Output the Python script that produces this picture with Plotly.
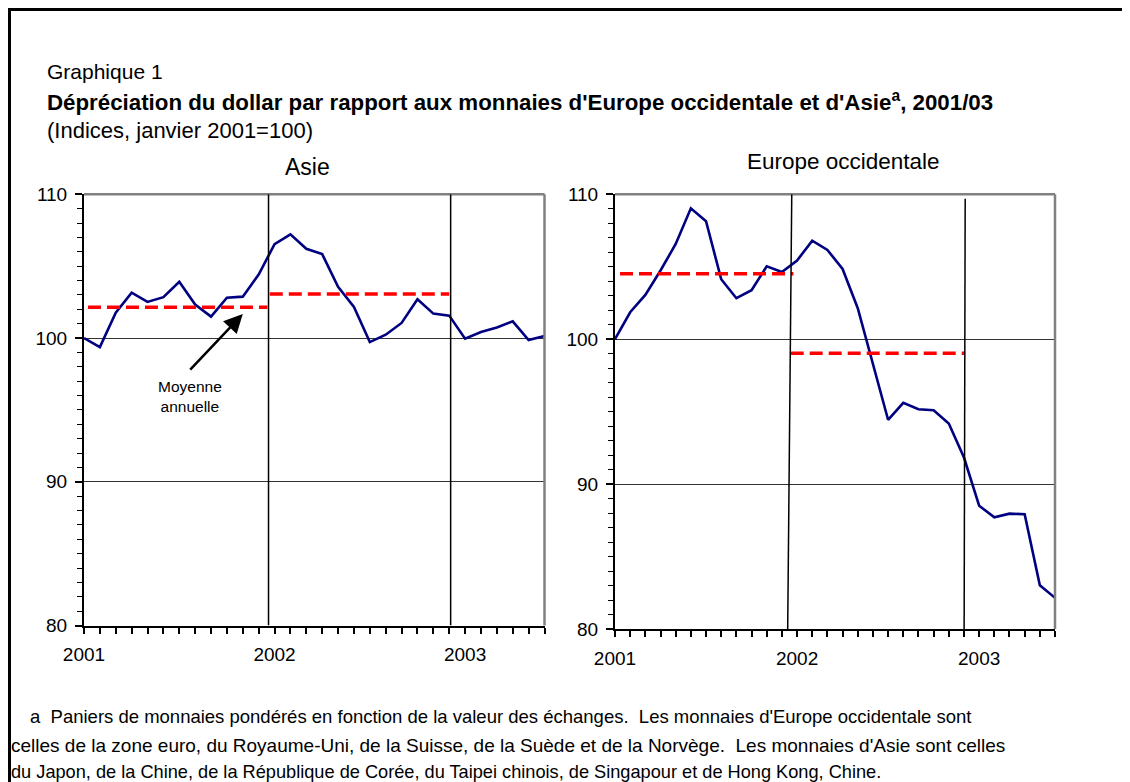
import plotly.graph_objects as go

# ---------------- data ----------------
months = list(range(30))  # Jan 2001 .. Jun 2003 (month index)
year_ticks = [0, 12, 24]
year_labels = ["2001", "2002", "2003"]

asie = [100.0, 99.37, 101.77, 103.16, 102.51, 102.84, 103.91, 102.33, 101.49, 102.81,
        102.88, 104.42, 106.53, 107.21, 106.21, 105.84, 103.56, 102.16, 99.72, 100.23,
        101.05, 102.70, 101.70, 101.56, 99.95, 100.42, 100.74, 101.16, 99.86, 100.14]
europe = [100.0, 101.86, 103.06, 104.74, 106.57, 109.03, 108.14, 104.14, 102.83, 103.38,
          105.03, 104.64, 105.43, 106.80, 106.16, 104.85, 102.14, 98.25, 94.44, 95.61,
          95.17, 95.10, 94.18, 91.83, 88.51, 87.71, 87.96, 87.92, 83.02, 82.15]
asie_avg = [102.14, 103.07]
europe_avg = [104.51, 99.03]

# ---------------- layout helpers ----------------
OFF = 8                      # page body margin
W, H = 1130 - OFF, 782 - OFF
FONT = "Liberation Sans, Arial, sans-serif"


def px(x):
    """picture x (pixels) -> paper fraction"""
    return (x - OFF) / W


def py(y):
    """picture y (pixels, from top) -> paper fraction"""
    return 1 - (y - OFF) / H


fig = go.Figure()

NAVY = "#000080"
RED = "#FF0000"

# series
fig.add_trace(go.Scatter(x=months, y=asie, mode="lines", line=dict(color=NAVY, width=2.6),
                         xaxis="x", yaxis="y", showlegend=False, hoverinfo="skip"))
fig.add_trace(go.Scatter(x=months, y=europe, mode="lines", line=dict(color=NAVY, width=2.6),
                         xaxis="x2", yaxis="y2", showlegend=False, hoverinfo="skip"))

# annual averages (dashed)
left_spans = [(0.25, 11.55), (11.7, 23.0)]
right_spans = [(0.33, 11.76), (11.58, 23.08)]
for (a, b), v in zip(left_spans, asie_avg):
    fig.add_trace(go.Scatter(x=[a, b], y=[v, v], mode="lines",
                             line=dict(color=RED, width=3.5, dash="13px,6px"),
                             xaxis="x", yaxis="y", showlegend=False, hoverinfo="skip"))
for (a, b), v in zip(right_spans, europe_avg):
    fig.add_trace(go.Scatter(x=[a, b], y=[v, v], mode="lines",
                             line=dict(color=RED, width=3.5, dash="13px,6px"),
                             xaxis="x2", yaxis="y2", showlegend=False, hoverinfo="skip"))

axis_font = dict(family=FONT, size=19, color="black")

common_x = dict(range=[0, 29], tickvals=year_ticks, ticktext=year_labels,
                ticks="outside", ticklen=6, tickwidth=1.5, tickcolor="black",
                showline=True, linecolor="black", linewidth=2, showgrid=False,
                zeroline=False, tickfont=axis_font, ticklabelstandoff=5, automargin=False,
                minor=dict(ticks="outside", dtick=1, tick0=0, ticklen=6,
                           tickwidth=1.5, tickcolor="black", showgrid=False))
common_y = dict(range=[80, 110], tickvals=[80, 90, 100, 110],
                ticks="outside", ticklen=7, tickwidth=1.5, tickcolor="black",
                showline=True, linecolor="black", linewidth=2,
                showgrid=True, gridcolor="#333333", gridwidth=1,
                zeroline=False, tickfont=axis_font, ticklabelstandoff=4, automargin=False,
                minor=dict(ticks="outside", dtick=1, tick0=80, ticklen=5,
                           tickwidth=1.2, tickcolor="black", showgrid=False))

fig.update_layout(
    width=W, height=H,
    autosize=False,
    margin=dict(l=0, r=0, t=0, b=0, pad=0, autoexpand=False),
    paper_bgcolor="white", plot_bgcolor="white",
    font=dict(family=FONT, color="black"),
    xaxis=dict(domain=[px(84), px(544.5)], anchor="y", **common_x),
    yaxis=dict(domain=[py(625.5), py(194.3)], anchor="x", **common_y),
    xaxis2=dict(domain=[px(615), px(1055)], anchor="y2", **common_x),
    yaxis2=dict(domain=[py(629), py(194.3)], anchor="x2", **common_y),
)

shapes = []
# grey frame (top + right) for both panels
for xr, yr in [("x", "y"), ("x2", "y2")]:
    shapes.append(dict(type="line", xref=f"{xr} domain", yref=f"{yr} domain",
                       x0=0, x1=1, y0=1, y1=1, line=dict(color="#808080", width=2.5)))
    shapes.append(dict(type="line", xref=f"{xr} domain", yref=f"{yr} domain",
                       x0=1, x1=1, y0=0, y1=1, line=dict(color="#808080", width=2.5)))

# year separator lines
for x0, x1, y1 in [(11.62, 11.62, 110), (23.09, 23.09, 110)]:
    shapes.append(dict(type="line", xref="x", yref="y", x0=x0, x1=x1, y0=80, y1=y1,
                       line=dict(color="black", width=1.5)))
for x0, x1, y1 in [(11.38, 11.65, 110), (23.01, 23.08, 109.7)]:
    shapes.append(dict(type="line", xref="x2", yref="y2", x0=x0, x1=x1, y0=79.8, y1=y1,
                       line=dict(color="black", width=1.5)))

# outer page border (left + top)
shapes.append(dict(type="line", xref="paper", yref="paper", x0=px(9.5), x1=px(9.5),
                   y0=0, y1=py(8), line=dict(color="black", width=3)))
shapes.append(dict(type="line", xref="paper", yref="paper", x0=px(8), x1=1,
                   y0=py(9.5), y1=py(9.5), line=dict(color="black", width=3)))
fig.update_layout(shapes=shapes)

ann = []


def text(x, y, s, size=18, xanchor="left", bold=False):
    ann.append(dict(xref="paper", yref="paper", x=px(x), y=py(y), text=f"<b>{s}</b>" if bold else s,
                    showarrow=False, xanchor=xanchor, yanchor="middle",
                    font=dict(family=FONT, size=size, color="black")))


text(45, 72, "Graphique 1", size=21)
text(45, 101, "Dépréciation du dollar par rapport aux monnaies d'Europe occidentale et d'Asie"
     "<sup>a</sup>, 2001/03", size=22.3, bold=True)
text(45, 130, "(Indices, janvier 2001=100)", size=22)

text(307, 167, "Asie", size=23, xanchor="center")
text(843, 161, "Europe occidentale", size=22.5, xanchor="center")

# footnote
text(28, 716, "a  Paniers de monnaies pondérés en fonction de la valeur des échanges.  "
     "Les monnaies d'Europe occidentale sont", size=18.5)
text(9, 745, "celles de la zone euro, du Royaume-Uni, de la Suisse, de la Suède et de la Norvège.  "
     "Les monnaies d'Asie sont celles", size=19)
text(9, 772, "du Japon, de la Chine, de la République de Corée, du Taipei chinois, "
     "de Singapour et de Hong Kong, Chine.", size=18.2)

# arrow + label
ann.append(dict(xref="x", yref="y", axref="x", ayref="y", x=10.0, y=101.67, ax=6.6, ay=97.7,
                showarrow=True, arrowhead=2, arrowsize=1.5, arrowwidth=2.5, arrowcolor="black",
                text=""))
ann.append(dict(xref="paper", yref="paper", x=px(190), y=py(396), showarrow=False,
                text="Moyenne<br>annuelle", xanchor="center", yanchor="middle",
                font=dict(family=FONT, size=15.5, color="black")))

fig.update_layout(annotations=ann)

fig.write_html("out.html")
